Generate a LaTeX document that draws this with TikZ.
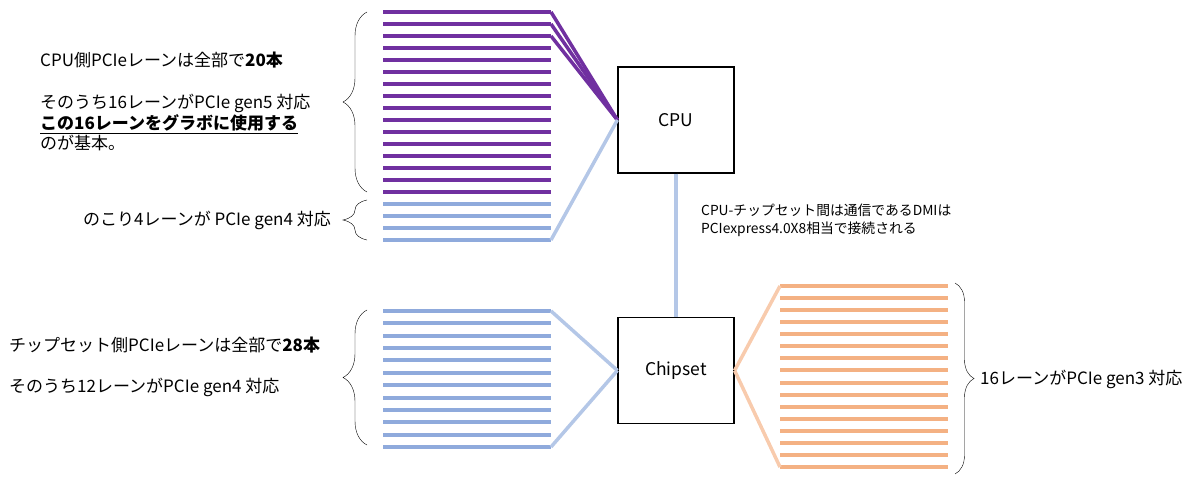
\documentclass[tikz,border=0pt]{standalone}
\usepackage{fontspec}
\setmainfont{Noto Sans CJK JP}
\usetikzlibrary{decorations.pathreplacing}

\definecolor{cpupurple}{HTML}{7030A0}
\definecolor{laneblue}{HTML}{8FAADC}
\definecolor{linkblue}{HTML}{B4C7E7}
\definecolor{laneorange}{HTML}{F4B183}
\definecolor{linkorange}{HTML}{F8CBAD}

\tikzset{
  lane/.style={line width=4pt},
  curly/.style={decorate,thin,black},
  note/.style={inner sep=0pt,font=\fontsize{17}{20}\selectfont}
}

\begin{document}
\begin{tikzpicture}[x=1pt,y=-1pt]
\useasboundingbox (0,0) rectangle (1196,489);

\begin{scope}[every node/.style={draw,line width=1.2pt,minimum width=116pt,minimum height=106pt,font=\fontsize{17.5}{20}\selectfont}]
  \node (cpu) at (676,120) {CPU};
  \node (chipset) at (676,370.5) {Chipset};
\end{scope}

% lanes
\foreach \i in {0,...,15}
  \draw[lane,cpupurple] (383,12+12*\i) -- (551,12+12*\i) coordinate (cl\i);
\foreach \i in {16,...,19}
  \draw[lane,laneblue] (383,12+12*\i) -- (551,12+12*\i) coordinate (cl\i);
\foreach \i in {0,...,11}
  \draw[lane,laneblue] (383,311+12.36*\i) -- (551,311+12.36*\i) coordinate (sl\i);
\foreach \i in {0,...,15}
  \draw[lane,laneorange] (780,286+12.07*\i) coordinate (ol\i) -- (948,286+12.07*\i);

\begin{scope}[every edge/.style={draw,line width=3.5pt}]
  \path (cl0) edge[cpupurple] (cpu.west);
  \path (cl1) edge[cpupurple] (cpu.west);
  \path (cl2) edge[cpupurple] (cpu.west);
  \path (cl19) edge[linkblue] (cpu.west);
  \path (cpu) edge[linkblue] (chipset);
  \path (sl0) edge[linkblue] (chipset.west);
  \path (sl11) edge[linkblue] (chipset.west);
  \path (chipset.east) edge[linkorange] (ol0);
  \path (chipset.east) edge[linkorange] (ol15);
\end{scope}

% braces
\draw[curly,decoration={brace,amplitude=24pt}] (367,192) -- (367,12);
\draw[curly,decoration={brace,amplitude=24pt}] (367,240) -- (367,200);
\draw[curly,decoration={brace,amplitude=24pt}] (367,445) -- (367,310);
\draw[curly,decoration={brace,amplitude=19pt}] (955,283) -- (955,474);

\begin{scope}[every node/.style={note,anchor=west}]
  \node (cputotal) at (40,60) {CPU側PCIeレーンは全部で\textbf{20本}};
  \node (gen5) at (40,103) {そのうち16レーンがPCIe gen5 対応};
  \node (gpu) at (40,124) {\textbf{\underline{この16レーンをグラボに使用する}}};
  \node (basic) at (40,143) {のが基本。};
  \node[anchor=east] (rest4) at (331,220) {のこり4レーンが PCIe gen4 対応};
  \node (chiptotal) at (9,345) {チップセット側PCIeレーンは全部で\textbf{28本}};
  \node (gen4) at (9,387) {そのうち12レーンがPCIe gen4 対応};
  \node (gen3) at (980,379) {16レーンがPCIe gen3 対応};
  \node[anchor=north west,align=left,font=\fontsize{13.8}{18}\selectfont] (dmi) at (701,204)
    {CPU-チップセット間は通信であるDMIは\\PCIexpress4.0X8相当で接続される};
\end{scope}
\end{tikzpicture}
\end{document}
